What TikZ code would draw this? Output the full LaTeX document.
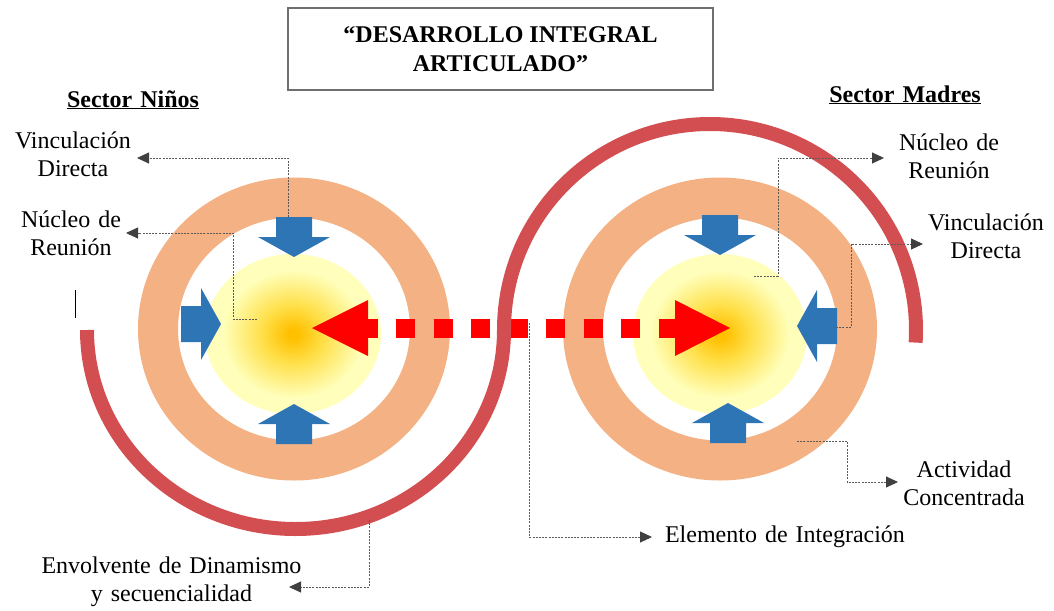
\documentclass[tikz,border=0pt]{standalone}
\usepackage{fontspec}
\setmainfont{Liberation Serif}
\usetikzlibrary{arrows.meta}
\definecolor{ringorange}{HTML}{F4B183}
\definecolor{arrowblue}{HTML}{2E75B6}
\definecolor{envred}{HTML}{D24E50}
\definecolor{pured}{HTML}{FF0000}
\definecolor{gin}{HTML}{FFC000}
\definecolor{gmid}{HTML}{FFE04A}
\definecolor{gout}{HTML}{FFFFBB}
\definecolor{conngray}{HTML}{5A5A5A}
\definecolor{headgray}{HTML}{404040}
\definecolor{boxgray}{HTML}{6E6E6E}
\pgfdeclareradialshading{glow}{\pgfpoint{0bp}{0bp}}{color(0bp)=(gin); color(1.5bp)=(gin); color(9bp)=(gmid); color(20bp)=(gout); color(50bp)=(gout)}
\newcommand{\blockarrow}[2]{\fill[arrowblue,shift={#1},rotate=#2] (0,0) -- (-20,-36) -- (-20,-18) -- (-40,-18) -- (-40,18) -- (-20,18) -- (-20,36) -- cycle;}
\tikzset{
  lbl/.style={font=\fontsize{24}{28.5}\selectfont, text width=320pt, align=center, anchor=base, inner sep=0pt},
  conn/.style={draw=conngray, line width=0.9pt, dash pattern=on 2pt off 1.2pt, -{Triangle[length=12pt,width=11pt,color=headgray]}},
  ring/.style={draw=ringorange, line width=40pt},
  glowfill/.style={shading=glow},
  envelope/.style={draw=envred, line width=14pt},
}
\begin{document}
\begin{tikzpicture}[x=1pt,y=-1pt]
\useasboundingbox (0,0) rectangle (1054,610);
% rings
\draw[ring] (294,329) ellipse[x radius=136, y radius=131.5];
\draw[ring] (720,329) ellipse[x radius=137, y radius=131.5];
% cores
\shade[glowfill] (293,334) ellipse[x radius=88, y radius=80];
\shade[glowfill] (720,334) ellipse[x radius=87, y radius=80];
% blue arrows (rotation is on the page: -90 points down, 90 points up)
\blockarrow{(294,257)}{-90}
\blockarrow{(221,324)}{0}
\blockarrow{(294,404)}{90}
\blockarrow{(720,255)}{-90}
\blockarrow{(797,326)}{180}
\blockarrow{(728,403)}{90}
% red dashed double arrow
\draw[pured, line width=19pt, dash pattern=on 19pt off 18.5pt] (358.5,328) -- (677,328);
\fill[pured] (312,328) -- (368,300) -- (368,356) -- cycle;
\fill[pured] (730,328) -- (675,300) -- (675,356) -- cycle;
% envelope
\draw[envelope] (87,330) arc[start angle=180, end angle=0, x radius=208.5, y radius=199]
  arc[start angle=180, end angle=363.5, radius=206];
\draw[black, line width=1pt] (75,290) -- (75,318);
% title
\node[draw=boxgray, line width=1.3pt, minimum width=425pt, minimum height=82pt, inner sep=0pt,
      font=\bfseries\fontsize{24}{28.5}\selectfont, align=center] (title) at (500.5,49)
      {“DESARROLLO INTEGRAL\\ARTICULADO”};
% sector headings
\node[lbl, font=\bfseries\fontsize{24}{28.5}\selectfont] (sn) at (133,107) {\underline{Sector Niños}};
\node[lbl, font=\bfseries\fontsize{24}{28.5}\selectfont] (sm) at (905,102) {\underline{Sector Madres}};
% labels
\node[lbl] (lvinc) at (73,148) {Vinculación\\Directa};
\node[lbl] (lnuc) at (71,227) {Núcleo de\\Reunión};
\node[lbl] (rnuc) at (949,150) {Núcleo de\\Reunión};
\node[lbl] (rvinc) at (986,230) {Vinculación\\Directa};
\node[lbl] (act) at (964,477) {Actividad\\Concentrada};
\node[lbl] (elem) at (785,542) {Elemento de Integración};
\node[lbl] (env) at (171.5,573) {Envolvente de Dinamismo\\y secuencialidad};
% connector end points
\coordinate (c1s) at (288,217); \coordinate (c1e) at (137,158);
\coordinate (c2s) at (257,319); \coordinate (c2m) at (233,319); \coordinate (c2e) at (126,233);
\coordinate (c3s) at (754,276); \coordinate (c3m) at (778,276); \coordinate (c3e) at (884,158);
\coordinate (c4s) at (836,327); \coordinate (c4m) at (851,327); \coordinate (c4e) at (923,244);
\coordinate (c5s) at (797,441); \coordinate (c5m) at (847,441); \coordinate (c5e) at (898,482);
\coordinate (c6s) at (529,323); \coordinate (c6e) at (652,537);
\coordinate (c7s) at (369,520); \coordinate (c7e) at (289,587);
% connectors
\draw[conn] (c1s) |- (c1e);
\draw[conn] (c2s) -- (c2m) |- (c2e);
\draw[conn] (c3s) -- (c3m) |- (c3e);
\draw[conn] (c4s) -- (c4m) |- (c4e);
\draw[conn] (c5s) -- (c5m) |- (c5e);
\draw[conn] (c6s) |- (c6e);
\draw[conn] (c7s) |- (c7e);
\end{tikzpicture}
\end{document}
